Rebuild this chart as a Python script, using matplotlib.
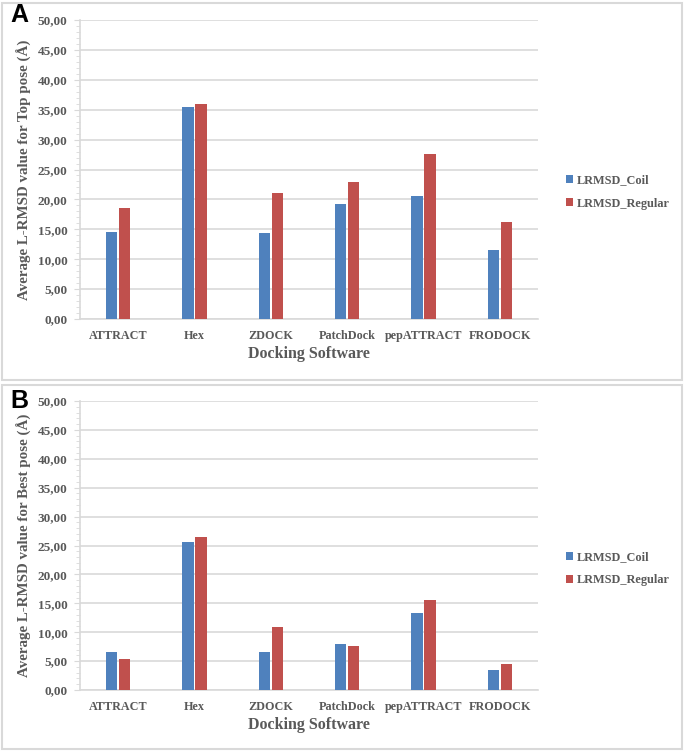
import matplotlib.pyplot as plt
import matplotlib.ticker as mticker
from matplotlib.patches import Rectangle
import numpy as np

software = ["ATTRACT", "Hex", "ZDOCK", "PatchDock", "pepATTRACT", "FRODOCK"]
top_coil = [14.6, 35.5, 14.4, 19.2, 20.5, 11.5]
top_regular = [18.5, 36.0, 21.1, 22.9, 27.6, 16.2]
best_coil = [6.5, 25.6, 6.5, 8.0, 13.3, 3.5]
best_regular = [5.4, 26.4, 10.9, 7.6, 15.5, 4.5]
series_names = ["LRMSD_Coil", "LRMSD_Regular"]

BLUE = "#4F81BD"
RED = "#C0504D"
GRID = "#D9D9D9"
TXT = "#595959"
W, H = 685, 753

plt.rcParams["font.family"] = ["Liberation Serif", "DejaVu Serif"]
plt.rcParams["font.weight"] = "bold"

fig = plt.figure(figsize=(W / 100, H / 100), dpi=100, facecolor="white")


def px_axes(left, top, right, bottom):
    return fig.add_axes([left / W, 1 - bottom / H, (right - left) / W, (bottom - top) / H])


def panel(ax, coil, regular, ylabel):
    x = np.arange(len(software))
    bw = 0.15
    ax.bar(x - 0.086, coil, bw, color=BLUE, label=series_names[0], zorder=3)
    ax.bar(x + 0.086, regular, bw, color=RED, label=series_names[1], zorder=3)
    ax.set_xlim(-0.5, len(software) - 0.5)
    ax.set_ylim(0, 50)
    ax.set_yticks(np.arange(0, 50.1, 5))
    ax.yaxis.set_minor_locator(mticker.MultipleLocator(1))
    ax.yaxis.set_major_formatter(mticker.FuncFormatter(lambda v, _: f"{v:.2f}".replace(".", ",")))
    ax.set_xticks(x)
    ax.set_xticklabels(software)
    ax.grid(axis="y", color=GRID, linewidth=1.2, zorder=0)
    for s in ["top", "right"]:
        ax.spines[s].set_visible(False)
    for s in ["left", "bottom"]:
        ax.spines[s].set_color(GRID)
        ax.spines[s].set_linewidth(1.2)
    ax.tick_params(axis="y", which="major", length=4, color=GRID, labelsize=9.5,
                   labelcolor=TXT, pad=5)
    ax.tick_params(axis="y", which="minor", length=3, color=GRID)
    ax.tick_params(axis="x", length=0, labelsize=8.7, labelcolor=TXT, pad=8)
    for lab in ax.get_xticklabels() + ax.get_yticklabels():
        lab.set_fontweight("bold")
    ax.set_xlabel("Docking Software", fontsize=11.5, color=TXT, fontweight="bold", labelpad=3)
    ax.set_ylabel(ylabel, fontsize=10.8, color=TXT, fontweight="bold", labelpad=4)


axA = px_axes(80, 20, 538, 319)
panel(axA, top_coil, top_regular, "Average L-RMSD value for Top pose (Å)")
axB = px_axes(80, 401, 538, 690)
panel(axB, best_coil, best_regular, "Average L-RMSD value for Best pose (Å)")

for ax, ycen in [(axA, 192), (axB, 569)]:
    ax.legend(loc="center left", bbox_to_anchor=(555 / W, 1 - ycen / H),
              bbox_transform=fig.transFigure, frameon=False,
              handlelength=0.6, handleheight=0.6, handletextpad=0.3,
              labelspacing=0.9, labelcolor=TXT, prop={"weight": "bold", "size": 8.8})

# panel frames
for top, bottom in [(3, 380), (385, 749)]:
    fig.patches.append(Rectangle((2 / W, 1 - bottom / H), 680 / W, (bottom - top) / H,
                                 transform=fig.transFigure, fill=False,
                                 edgecolor=GRID, linewidth=1.5))

fig.text(19 / W, 1 - 15 / H, "A", fontsize=18, fontweight="bold", family="Liberation Sans",
         ha="center", va="center")
fig.text(19 / W, 1 - 401 / H, "B", fontsize=18, fontweight="bold", family="Liberation Sans",
         ha="center", va="center")

fig.savefig("out.png", dpi=100, facecolor="white")
